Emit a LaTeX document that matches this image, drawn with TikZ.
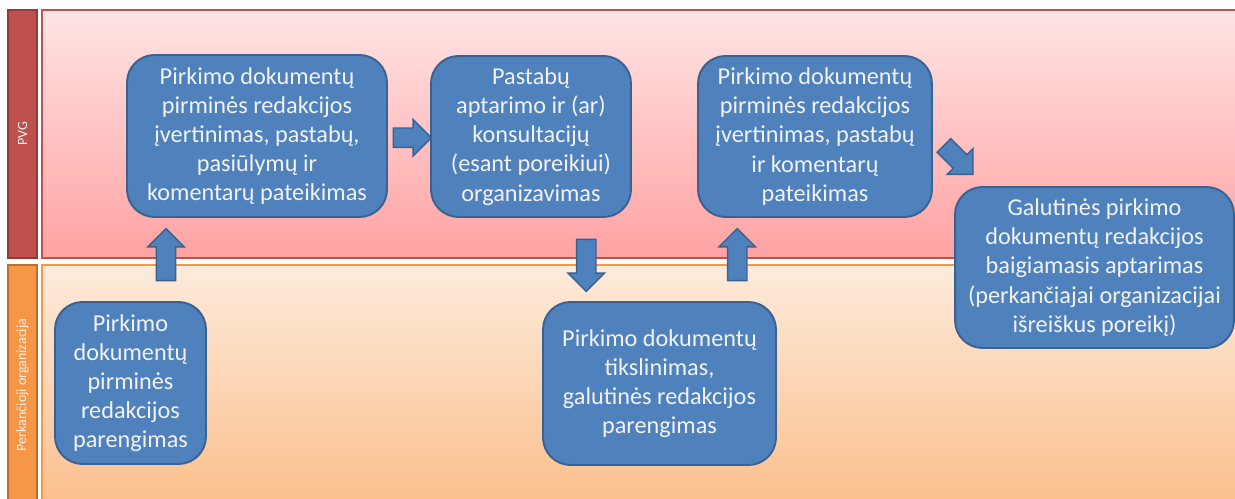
\documentclass[tikz,border=0pt]{standalone}
\usepackage{fontspec}
\setmainfont{Carlito}
\usepackage[]{tikz}
\usetikzlibrary{calc}
\usetikzlibrary{shapes.arrows}

\definecolor{boxblue}{HTML}{4F81BD}
\definecolor{boxline}{HTML}{3A6190}
\definecolor{pvgred}{HTML}{C0504D}
\definecolor{pvgdark}{HTML}{8E3B39}
\definecolor{pvgtop}{HTML}{FFE4E4}
\definecolor{pvgbot}{HTML}{FFA2A2}
\definecolor{orgorange}{HTML}{F79646}
\definecolor{orgdark}{HTML}{B9712F}
\definecolor{orgtop}{HTML}{FDEBDC}
\definecolor{orgbot}{HTML}{FBBE8A}

\tikzset{
  stepbox/.style={draw=boxline, line width=1.1pt, fill=boxblue, rounded corners=0.55cm,
    text=white!95!black, align=center, inner sep=2pt, font=\fontsize{13.8}{16.6}\selectfont},
  bigarrow/.style={single arrow, draw=boxline, line width=0.8pt, fill=boxblue, inner xsep=0pt,
    inner ysep=0.18cm, single arrow head extend=0.17cm, minimum height=1.04cm},
  lanelabel/.style={rotate=90, text=white!95!black, font=\fontsize{8}{9}\selectfont}
}

\begin{document}
\begin{tikzpicture}[x=0.02cm, y=-0.02cm]
            \useasboundingbox (0,0) rectangle (1235,499);
            % juostos
            \draw[draw=pvgred, line width=0.8pt, top color=pvgtop, bottom color=pvgbot] (42,10) rectangle (1245,258);
            \draw[draw=orgorange, line width=0.8pt, top color=orgtop, bottom color=orgbot] (42,265) rectangle (1245,510);
            \draw[draw=pvgdark, line width=0.6pt, fill=pvgred] (8,10) rectangle (37,258);
            \draw[draw=orgdark, line width=0.6pt, fill=orgorange] (8,265) rectangle (37,510);
            \node[lanelabel] (pvg) at (22.5,134) {PVG};
            \node[lanelabel] (org) at (22.5,385) {Perkančioji organizacija};
            % etapai
            \node[stepbox, minimum width=5.2cm, minimum height=3.24cm] (pirm) at (257,136)
                {Pirkimo dokumentų\\pirminės redakcijos\\įvertinimas, pastabų,\\pasiūlymų ir\\komentarų pateikimas};
            \node[stepbox, minimum width=4.0cm, minimum height=3.22cm] (aptar) at (531,136.5)
                {Pastabų\\aptarimo ir (ar)\\konsultacijų\\(esant poreikiui)\\organizavimas};
            \node[stepbox, minimum width=4.68cm, minimum height=3.22cm] (vert) at (815,136.5)
                {Pirkimo dokumentų\\pirminės redakcijos\\įvertinimas, pastabų\\ir komentarų\\pateikimas};
            \node[stepbox, minimum width=5.58cm, minimum height=3.22cm] (galut) at (1094.5,267.5)
                {Galutinės pirkimo\\dokumentų redakcijos\\baigiamasis aptarimas\\(perkančiajai organizacijai\\išreiškus poreikį)};
            \node[stepbox, minimum width=3.02cm, minimum height=3.24cm] (pareng) at (130.5,383)
                {Pirkimo\\dokumentų\\pirminės\\redakcijos\\parengimas};
            \node[stepbox, minimum width=4.66cm, minimum height=3.26cm] (tiksl) at (659.5,383.5)
                {Pirkimo dokumentų\\tikslinimas,\\galutinės redakcijos\\parengimas};
            % rodyklės
            \node[bigarrow, rotate=90] (a1) at ($(pareng.north)!.5!(pirm.south) + (-27.75,0)$) {};
            \node[bigarrow, minimum height=0.76cm] (a2) at ($(pirm.east)!.5!(aptar.west) + (-1.5,1.5)$) {};
            \node[bigarrow, rotate=-90] (a3) at ($(aptar.south)!.5!(tiksl.north) + (-9,1)$) {};
            \node[bigarrow, rotate=90] (a4) at ($(tiksl.north)!.5!(vert.south)$) {};
            \node[bigarrow, rotate=-45, minimum height=0.82cm] (a5)
                at ($(vert.east)!.5!(galut.north west) + (11.5,-4.75)$) {};
\end{tikzpicture}
\end{document}
